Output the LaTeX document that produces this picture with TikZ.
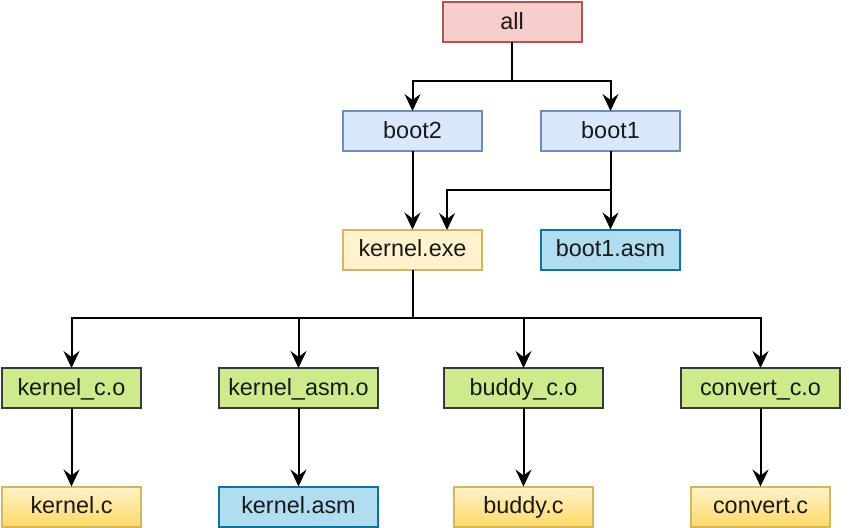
\documentclass[tikz,border=0pt]{standalone}
\usepackage{fontspec}
\setmainfont{Liberation Sans}
\usetikzlibrary{arrows.meta}
\tikzset{>={Stealth[length=8.5pt,width=8pt,inset=3pt]}}
\definecolor{redfill}{HTML}{F8CECC}
\definecolor{redline}{HTML}{B85450}
\definecolor{bluefill}{HTML}{DAE8FC}
\definecolor{blueline}{HTML}{6C8EBF}
\definecolor{yellowfill}{HTML}{FFF2CC}
\definecolor{yellowdark}{HTML}{FFD966}
\definecolor{yellowline}{HTML}{D6B656}
\definecolor{asmfill}{HTML}{B1DDF0}
\definecolor{asmline}{HTML}{10739E}
\definecolor{greenfill}{HTML}{CDEB8B}
\definecolor{greenline}{HTML}{36393D}
\tikzset{
	box/.style={rectangle, inner sep=0pt, outer sep=0pt, line width=1pt,
		minimum width=69.5pt, minimum height=20pt, text height=9.2pt, text depth=1.8pt,
		font=\fontsize{11.7}{14}\selectfont, text=black!90},
	wide/.style={minimum width=79.5pt},
	target/.style={box, draw=redline, fill=redfill},
	boot/.style={box, draw=blueline, fill=bluefill},
	image/.style={box, draw=yellowline, fill=yellowfill},
	asm/.style={box, draw=asmline, fill=asmfill},
	obj/.style={box, wide, draw=greenline, fill=greenfill},
	src/.style={box, draw=yellowline, top color=yellowfill, bottom color=yellowdark},
	link/.style={line width=1pt}
}

\begin{document}
\begin{tikzpicture}[x=0.5pt, y=-0.5pt]
	\useasboundingbox (0,0) rectangle (849,527);

	\node[target] (all) at (512,22) {all};

	\node[boot] (boot2) at (412.5,131) {boot2};
	\node[boot] (boot1) at (610.5,131) {boot1};

	\node[image] (kexe) at (412.5,249.5) {kernel.exe};
	\node[asm] (b1asm) at (610.5,249.5) {boot1.asm};

	\node[obj, minimum width=69.5pt] (kco) at (71.5,388) {kernel\_c.o};
	\node[obj] (kasmo) at (298.5,388) {kernel\_asm.o};
	\node[obj] (bco) at (523.5,388) {buddy\_c.o};
	\node[obj] (cco) at (760.5,388) {convert\_c.o};

	\node[src] (kc) at (71.5,506.5) {kernel.c};
	\node[asm, wide] (kasm) at (298.5,506.5) {kernel.asm};
	\node[src] (bc) at (523.5,506.5) {buddy.c};
	\node[src] (cc) at (760.5,506.5) {convert.c};

	\coordinate (allj) at (512,81);
	\coordinate (bootj) at (610.5,190);
	\coordinate (kexein) at (447,230);
	\coordinate (objj) at (412.5,318);

	\draw[link] (all) -- (allj);
	\draw[link][->] (allj) -| (boot2);
	\draw[link][->] (allj) -| (boot1);

	\draw[link][->] (boot2) -- (kexe);
	\draw[link][->] (boot1) -- (b1asm);
	\draw[link][->] (bootj) -| (kexein);

	\draw[link] (kexe) -- (objj);
	\draw[link][->] (objj) -| (kco);
	\draw[link][->] (objj) -| (kasmo);
	\draw[link][->] (objj) -| (bco);
	\draw[link][->] (objj) -| (cco);

	\draw[link][->] (kco) -- (kc);
	\draw[link][->] (kasmo) -- (kasm);
	\draw[link][->] (bco) -- (bc);
	\draw[link][->] (cco) -- (cc);
\end{tikzpicture}
\end{document}
